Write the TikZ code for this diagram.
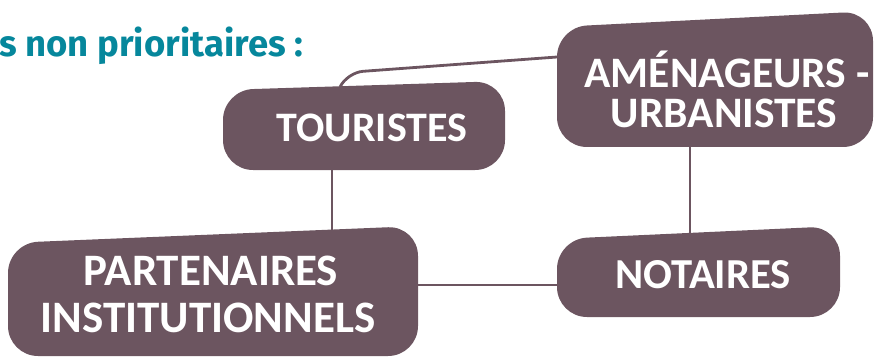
\documentclass[tikz,border=0pt]{standalone}
\usepackage{fontspec}
\setmainfont{Carlito}
\newfontfamily\headfont{Fira Sans}
\begin{document}
\begin{tikzpicture}[x=1pt,y=-1pt,
  boxfill/.style={fill=mauve, draw=none, rounded corners=30pt},
  label/.style={text=white, font=\bfseries\fontsize{#1}{#1}\selectfont, inner sep=0pt, anchor=base},
  label/.default=43,
  link/.style={draw=mauve, line width=2.8pt},
]
\definecolor{mauve}{HTML}{6C5560}
\definecolor{teal}{HTML}{06879C}
\useasboundingbox (0,0) rectangle (874,358);

% heading
\node[anchor=base west, inner sep=0pt, text=teal,
      font=\headfont\bfseries\fontsize{36.5}{40}\selectfont] (head) at (-1,57) {s non prioritaires :};

% anchor points on the box outlines
\coordinate (tou-top) at (340,87);
\coordinate (tou-bot) at (332,170);
\coordinate (ame-left) at (557,57);
\coordinate (ame-bot) at (690,147);
\coordinate (par-top) at (332,230);
\coordinate (par-right) at (418,285);
\coordinate (not-left) at (557,285);
\coordinate (not-top) at (690,233);

% connectors
\draw[link, rounded corners=16pt] (tou-top) -- (347,72.5) -- (ame-left);
\draw[link] (tou-bot) -- (par-top);
\draw[link] (ame-bot) -- (not-top);
\draw[link] (par-right) -- (not-left);

% boxes with a slanted top edge
\path[boxfill] (364,170) -- (505,170) -- (505,81) -- (223,90) -- (223,170) -- cycle;
\path[boxfill] (715,147) -- (873,147) -- (873,11) -- (557,27) -- (557,147) -- cycle;
\path[boxfill] (200,356) -- (418,356) -- (418,226) -- (8,243) -- (8,356) -- cycle;
\path[boxfill] (700,317) -- (840,317) -- (840,226) -- (557,239) -- (557,317) -- cycle;

% box labels
\node[label=42] (tou) at (372,142) {TOURISTES};
\node[label=43.5] (ame1) at (727,88) {AMÉNAGEURS -};
\node[label=43.5] (ame2) at (724,128) {URBANISTES};
\node[label=45] (par1) at (211,285) {PARTENAIRES};
\node[label=45] (par2) at (208,332) {INSTITUTIONNELS};
\node[label=42.7] (not) at (703,288) {NOTAIRES};
\end{tikzpicture}
\end{document}
